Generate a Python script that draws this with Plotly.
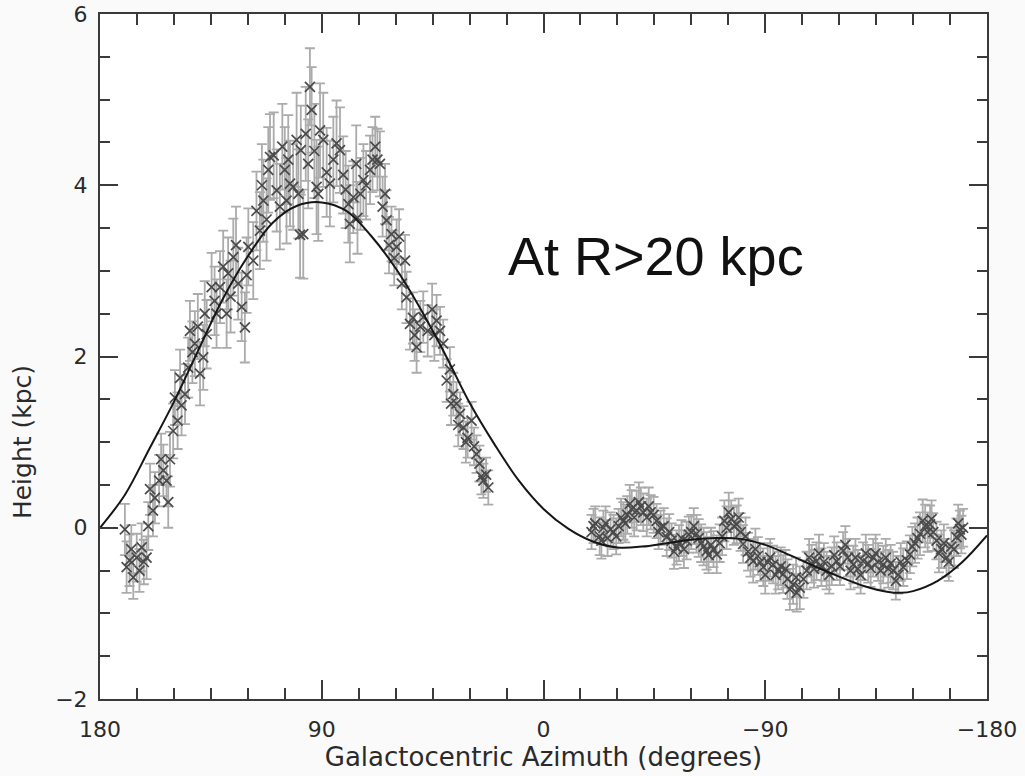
import plotly.graph_objects as go

# ---- data ----
left_az = [169.9, 169.2, 166.5, 165.1, 163.1, 161.1, 160.4, 159.7, 157.7, 156.0, 154.3, 152.3, 151.6,
           150.3, 149.6, 148.5, 146.9, 145.5, 144.2, 143.5, 141.5, 139.4, 138.1, 136.7, 134.7, 132.7,
           131.3, 128.6, 128.0, 125.9, 123.9, 122.5, 121.2, 119.8, 117.8, 115.1, 113.7, 111.7, 111.0,
           108.3, 105.0, 104.3, 102.9, 101.6, 100.2, 98.8, 98.5, 97.5, 95.5, 94.8, 94.1, 92.1, 90.7,
           89.4, 86.7, 84.0, 82.6, 81.3, 79.2, 78.6, 77.2, 75.5, 73.1, 70.4, 68.3, 66.4, 64.3, 63.7,
           61.7, 59.6, 57.5, 56.2, 55.6, 54.2, 51.5, 48.8, 47.0, 45.2, 43.4, 40.7, 39.3, 36.6, 35.3,
           33.9, 32.5, 30.8, 29.2, 27.2, 26.0, 24.4, 23.3, 22.4]
left_h = [-0.02, -0.46, -0.58, -0.35, -0.23, -0.35, 0.02, 0.45, 0.35, 0.55, 0.67, 0.30, 0.80,
          1.13, 1.52, 1.25, 1.43, 1.56, 1.87, 2.30, 2.15, 1.80, 1.99, 2.26, 2.81, 2.50,
          2.81, 2.50, 2.97, 3.16, 2.85, 2.58, 2.34, 3.28, 3.12, 3.47, 3.82, 4.18, 4.33,
          3.94, 4.18, 3.82, 4.02, 3.98, 4.53, 3.42, 4.41, 3.43, 4.25, 5.15, 4.88, 3.98, 4.64,
          4.53, 4.02, 4.49, 4.41, 4.12, 3.78, 3.55, 3.86, 3.62, 4.06, 4.18, 4.45, 4.25, 3.90, 3.59,
          3.43, 3.28, 2.85, 3.12, 2.69, 2.38, 2.11, 2.46, 2.30, 2.55, 2.42, 2.15, 1.72, 1.56, 1.45,
          1.33, 1.17, 1.05, 1.25, 0.86, 0.75, 0.55, 0.62, 0.47]
left_err = [0.30, 0.30, 0.25, 0.28, 0.28, 0.25, 0.28, 0.30, 0.30, 0.30, 0.30, 0.30, 0.32,
            0.32, 0.32, 0.33, 0.35, 0.35, 0.35, 0.35, 0.38, 0.37, 0.38, 0.40, 0.40, 0.40,
            0.42, 0.40, 0.42, 0.45, 0.42, 0.40, 0.41, 0.45, 0.45, 0.45, 0.48, 0.50, 0.50,
            0.48, 0.50, 0.50, 0.50, 0.50, 0.55, 0.50, 0.52, 0.52, 0.52, 0.45, 0.50, 0.55, 0.55,
            0.55, 0.50, 0.50, 0.50, 0.45, 0.45, 0.45, 0.42, 0.42, 0.42, 0.40, 0.35, 0.38, 0.35, 0.35,
            0.32, 0.32, 0.30, 0.30, 0.30, 0.30, 0.30, 0.30, 0.30, 0.30, 0.30, 0.28, 0.25, 0.25, 0.25,
            0.25, 0.25, 0.23, 0.22, 0.22, 0.21, 0.20, 0.20, 0.20]

# additional (interleaved) points of the same northern data set
left_az_b = [168.0, 167.3, 164.0, 162.2, 158.5, 155.2, 153.0, 147.5, 142.5, 140.3, 137.5, 133.5,
             130.0, 127.0, 124.8, 120.5, 116.5, 114.3, 112.4, 109.5, 107.0, 106.0, 103.6, 99.5,
             96.5, 93.0, 91.4, 88.0, 85.3, 80.3, 76.0, 74.3, 72.0, 69.4, 67.4, 65.3, 62.7, 60.6,
             58.6, 53.0, 52.3, 50.0, 44.3, 42.0, 38.0, 37.5, 34.6, 31.5, 28.2, 25.2]
left_h_b = [-0.38, -0.25, -0.50, -0.40, 0.20, 0.80, 0.55, 1.75, 2.05, 2.35, 2.50, 2.65,
            3.05, 2.70, 3.30, 2.95, 3.70, 4.00, 3.60, 4.35, 3.75, 4.45, 4.30, 3.90,
            4.60, 4.40, 3.90, 4.15, 4.30, 3.95, 4.25, 3.90, 4.00, 4.30, 4.30, 3.75, 3.30, 3.15,
            3.40, 2.45, 2.25, 2.35, 2.25, 2.30, 1.85, 1.45, 1.20, 1.00, 0.95, 0.60]
left_err_b = [0.30, 0.28, 0.25, 0.26, 0.30, 0.30, 0.30, 0.33, 0.36, 0.38, 0.38, 0.40,
              0.42, 0.42, 0.45, 0.44, 0.46, 0.48, 0.48, 0.50, 0.50, 0.50, 0.52, 0.52,
              0.55, 0.55, 0.55, 0.52, 0.50, 0.45, 0.45, 0.42, 0.40, 0.38, 0.36, 0.35, 0.33, 0.32,
              0.32, 0.30, 0.30, 0.30, 0.30, 0.28, 0.26, 0.25, 0.25, 0.24, 0.22, 0.21]

right_az = [-19.5, -21.0, -22.8, -24.3, -26.0, -28.4, -30.5, -32.4, -34.0, -35.8, -37.8, -39.5,
            -41.9, -43.5, -45.9, -47.5, -50.0, -52.0, -54.0, -56.0, -58.1, -60.0, -62.1, -64.0,
            -66.2, -68.0, -70.3, -72.5, -74.3, -76.2, -78.4, -80.0, -81.0, -83.0, -85.1, -87.0,
            -89.2, -91.0, -93.2, -95.3, -97.3, -99.0, -101.3, -104.0, -105.5, -106.8, -108.8,
            -110.8, -112.8, -114.9, -117.0, -119.0, -121.6, -123.5, -125.7, -127.6, -129.7,
            -131.8, -133.8, -135.8, -137.9, -139.9, -141.9, -144.0, -146.0, -147.5, -148.7,
            -150.8, -152.8, -154.9, -156.9, -158.2, -159.5, -161.5, -163.6, -165.5, -167.6,
            -169.0, -170.3]
right_h = [-0.05, 0.05, -0.10, 0.00, -0.12, -0.05, 0.02, 0.08, 0.15, 0.22, 0.20, 0.25,
           0.12, 0.18, 0.08, 0.00, -0.11, -0.15, -0.23, -0.12, -0.15, -0.05, -0.07, -0.18,
           -0.27, -0.20, -0.31, -0.10, 0.00, 0.10, 0.04, -0.05, -0.19, -0.28, -0.39, -0.33,
           -0.46, -0.40, -0.43, -0.50, -0.54, -0.60, -0.66, -0.70, -0.60, -0.50, -0.42,
           -0.39, -0.46, -0.50, -0.45, -0.39, -0.27, -0.35, -0.43, -0.48, -0.39,
           -0.42, -0.35, -0.40, -0.43, -0.48, -0.50, -0.55, -0.46, -0.38, -0.31,
           -0.18, -0.07, 0.02, 0.04, -0.05, -0.15, -0.25, -0.35, -0.22, -0.11,
           -0.02, 0.00]
right_err = [0.20, 0.20, 0.22, 0.20, 0.21, 0.20, 0.20, 0.22, 0.22, 0.22, 0.23, 0.22,
             0.22, 0.20, 0.20, 0.20, 0.22, 0.20, 0.20, 0.21, 0.22, 0.20, 0.22, 0.22,
             0.22, 0.20, 0.22, 0.22, 0.25, 0.22, 0.22, 0.22, 0.22, 0.22, 0.25, 0.22,
             0.22, 0.22, 0.22, 0.22, 0.22, 0.23, 0.23, 0.25, 0.22, 0.22, 0.22,
             0.22, 0.22, 0.22, 0.22, 0.22, 0.22, 0.22, 0.22, 0.22, 0.22,
             0.22, 0.22, 0.22, 0.22, 0.22, 0.22, 0.22, 0.22, 0.22, 0.22,
             0.23, 0.25, 0.25, 0.22, 0.22, 0.22, 0.22, 0.22, 0.22, 0.22,
             0.22, 0.22]

right_az_b = [-20.3, -23.5, -25.2, -27.2, -29.5, -31.5, -33.2, -35.0, -36.8, -38.7, -40.5, -42.7,
              -44.7, -46.7, -48.8, -51.0, -53.0, -55.0, -57.0, -59.0, -61.0, -63.0, -65.0, -67.0,
              -69.0, -71.5, -73.4, -75.2, -77.3, -79.2, -82.0, -84.0, -86.0, -88.0, -90.0, -92.0,
              -94.2, -96.3, -98.2, -100.0, -102.5, -102.8, -107.8, -109.8, -111.8, -113.8, -116.0,
              -118.0, -120.3, -122.5, -124.6, -126.6, -128.7, -130.8, -132.8, -134.8, -136.8,
              -138.9, -140.9, -143.0, -145.0, -149.7, -151.8, -153.9, -155.9, -157.5, -160.5,
              -162.5, -164.5, -166.6, -168.3, -169.6]
right_h_b = [0.02, -0.15, 0.05, -0.02, -0.10, 0.12, 0.05, 0.28, 0.12, 0.30, 0.18, 0.25,
             0.15, -0.05, 0.02, -0.05, -0.28, -0.18, -0.25, -0.08, 0.02, -0.12, -0.22, -0.32,
             -0.25, -0.18, 0.08, 0.18, 0.02, 0.12, -0.10, -0.35, -0.25, -0.40, -0.55, -0.35,
             -0.55, -0.45, -0.48, -0.72, -0.58, -0.76, -0.35, -0.48, -0.30, -0.40, -0.55,
             -0.32, -0.45, -0.20, -0.50, -0.35, -0.55, -0.30, -0.47, -0.30, -0.50,
             -0.35, -0.42, -0.62, -0.40, -0.22, -0.12, 0.08, -0.05, 0.10, -0.30,
             -0.18, -0.40, -0.25, 0.05, -0.08]
right_err_b = [0.20, 0.21, 0.20, 0.20, 0.21, 0.22, 0.22, 0.22, 0.22, 0.23, 0.22, 0.22,
               0.21, 0.20, 0.21, 0.21, 0.20, 0.21, 0.22, 0.21, 0.21, 0.22, 0.22, 0.21,
               0.21, 0.22, 0.24, 0.23, 0.22, 0.22, 0.22, 0.22, 0.24, 0.22, 0.22, 0.22,
               0.22, 0.22, 0.22, 0.24, 0.23, 0.22, 0.22, 0.22, 0.22, 0.22, 0.22,
               0.22, 0.22, 0.22, 0.22, 0.22, 0.22, 0.22, 0.22, 0.22, 0.22,
               0.22, 0.22, 0.22, 0.22, 0.23, 0.24, 0.25, 0.23, 0.22, 0.22,
               0.22, 0.22, 0.22, 0.22, 0.22]

fit_az = [180, 170, 160, 150, 140, 130, 120, 110, 100, 90, 80, 70, 60, 50, 40, 30, 20, 10, 0,
          -10, -20, -30, -40, -50, -60, -70, -80, -90, -100, -110, -120, -130, -140, -145,
          -150, -160, -170, -180]
fit_h = [0.0, 0.38, 0.92, 1.47, 2.08, 2.68, 3.17, 3.56, 3.76, 3.80, 3.70, 3.41, 3.03, 2.56,
         2.03, 1.46, 0.98, 0.55, 0.22, -0.01, -0.16, -0.23, -0.22, -0.18, -0.14, -0.12, -0.13,
         -0.20, -0.32, -0.45, -0.57, -0.68, -0.75, -0.76, -0.74, -0.62, -0.40, -0.09]

x_tickvals = [180, 90, 0, -90, -180]
x_ticktext = ["180", "90", "0", "\u221290", "\u2212180"]
y_tickvals = [-2, 0, 2, 4, 6]
y_ticktext = ["\u22122", "0", "2", "4", "6"]

ERR_COLOR = "#ababab"
MARK_COLOR = "#4a4a4a"
AX_COLOR = "#3a3a3a"
TXT_COLOR = "#2a2a2a"
FONT = "DejaVu Sans"

fig = go.Figure()
sets = [(left_az, left_h, left_err), (left_az_b, left_h_b, left_err_b),
        (right_az, right_h, right_err), (right_az_b, right_h_b, right_err_b)]
# error bars first (underneath), then markers on top
for az, h, e in sets:
    fig.add_trace(go.Scatter(
        x=az, y=h, mode="markers", marker=dict(size=1, opacity=0),
        error_y=dict(type="data", array=e, visible=True, color=ERR_COLOR, thickness=1.8, width=5),
        showlegend=False, hoverinfo="skip"))
for az, h, e in sets:
    fig.add_trace(go.Scatter(
        x=az, y=h, mode="markers",
        marker=dict(symbol="x-thin", size=10, line=dict(width=1.7, color=MARK_COLOR), color=MARK_COLOR),
        showlegend=False, hoverinfo="skip"))

fig.add_trace(go.Scatter(x=fit_az, y=fit_h, mode="lines",
                         line=dict(color="#161616", width=2, shape="spline", smoothing=1.0),
                         showlegend=False))

fig.add_annotation(text="At R>20 kpc", x=0.627, y=0.693, xref="paper", yref="paper",
                   showarrow=False, font=dict(family="Liberation Sans, Arial", size=54, color="#111111"))
fig.add_annotation(text="Height (kpc)", textangle=-90, x=-0.088, y=0.375, xref="paper", yref="paper",
                   xanchor="center", yanchor="middle", showarrow=False,
                   font=dict(family=FONT, size=25, color=TXT_COLOR))

axis_common = dict(showgrid=False, zeroline=False, showline=True, linecolor=AX_COLOR, linewidth=2,
                   mirror="allticks", ticks="inside", tickcolor=AX_COLOR, tickwidth=2,
                   automargin=False,
                   tickfont=dict(family=FONT, size=22, color=TXT_COLOR))

fig.update_xaxes(range=[180, -180], tickmode="array", tickvals=x_tickvals, ticktext=x_ticktext,
                 ticklen=19, ticklabelstandoff=10,
                 minor=dict(ticks="inside", tick0=0, dtick=15, ticklen=11, tickcolor=AX_COLOR, tickwidth=2,
                            showgrid=False),
                 title=dict(text="Galactocentric Azimuth (degrees)",
                            font=dict(family=FONT, size=26, color=TXT_COLOR), standoff=4),
                 **axis_common)
fig.update_yaxes(range=[-2, 6], tickmode="array", tickvals=y_tickvals, ticktext=y_ticktext,
                 ticklen=18, ticklabelstandoff=6,
                 minor=dict(ticks="inside", tick0=0, dtick=0.5, ticklen=10, tickcolor=AX_COLOR, tickwidth=2,
                            showgrid=False),
                 **axis_common)

fig.update_layout(width=1025, height=776, margin=dict(l=100, r=38, t=14, b=77),
                  paper_bgcolor="#fafafa", plot_bgcolor="#ffffff")

fig.write_html("out.html")
